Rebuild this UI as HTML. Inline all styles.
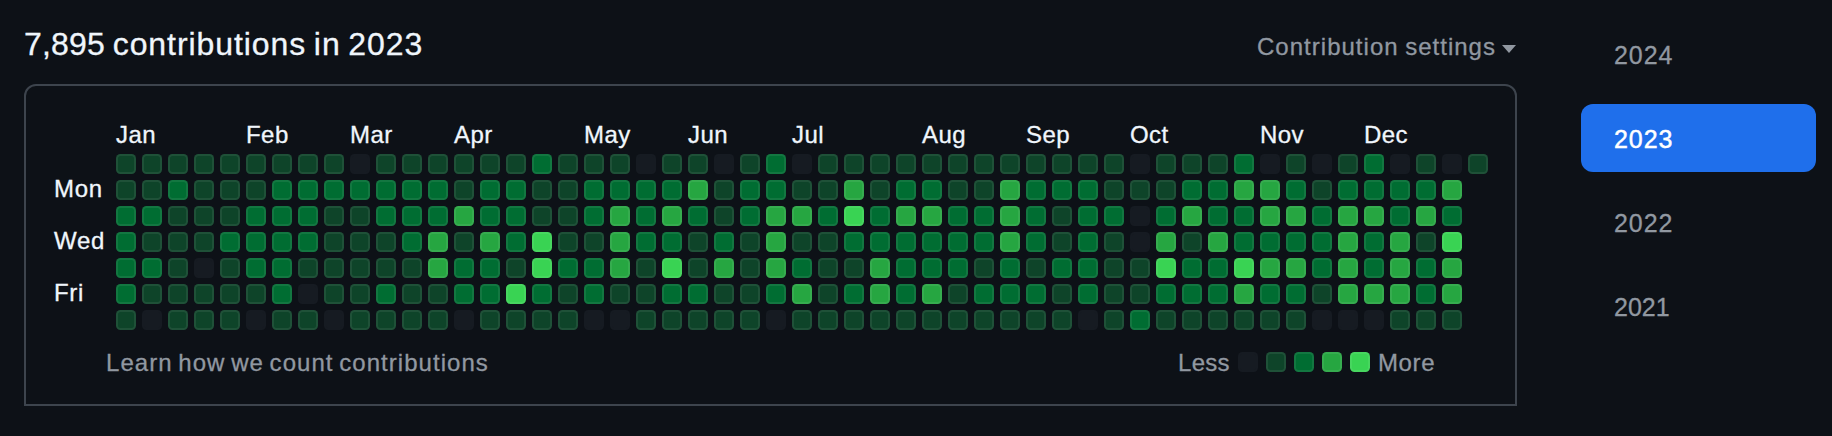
<!DOCTYPE html>
<html><head><meta charset="utf-8"><title>Contributions</title>
<style>
html,body{margin:0;padding:0;background:#0d1117;}
body{width:1832px;height:436px;position:relative;overflow:hidden;font-family:"Liberation Sans",Arial,sans-serif;color:#f0f6fc;}
.abs,.c,.m,.d{position:absolute;}
h2{position:absolute;left:24px;top:24px;margin:0;font-size:32px;font-weight:400;line-height:40px;white-space:nowrap;color:#f0f6fc;letter-spacing:0.93px;word-spacing:-2.2px;-webkit-text-stroke:0.3px #f0f6fc;}
.box{position:absolute;left:24px;top:84px;width:1489px;height:318px;border:2px solid #3d444d;border-radius:12px 12px 0 0;}
.c{width:20px;height:20px;border-radius:4.5px;box-sizing:border-box;border:2px solid rgba(255,255,255,0.075);background-clip:border-box;}
.l0{background:#161b22;border-color:rgba(27,31,35,0.06);}.l1{background:#0e4429;}.l2{background:#006d32;}.l3{background:#26a641;}.l4{background:#39d353;}
.m{top:121px;font-size:24px;line-height:28px;white-space:nowrap;letter-spacing:0.45px;-webkit-text-stroke:0.3px #f0f6fc;}
.d{left:54px;font-size:24px;line-height:28px;white-space:nowrap;letter-spacing:0.7px;-webkit-text-stroke:0.3px #f0f6fc;}
.mut{-webkit-text-stroke:0.3px #9198a1;color:#9198a1;font-size:24px;line-height:28px;white-space:nowrap;position:absolute;}
.yr{position:absolute;left:1581px;width:235px;height:68px;border-radius:12px;font-size:25px;line-height:70.5px;color:#9198a1;text-indent:33px;letter-spacing:0.95px;-webkit-text-stroke:0.3px #9198a1;}
.yr.sel{background:#1f6feb;color:#fff;-webkit-text-stroke:0.45px #fff;}
.caret{position:absolute;left:1501.5px;top:45px;width:0;height:0;border-left:7.5px solid transparent;border-right:7.5px solid transparent;border-top:8.5px solid #9198a1;}
</style></head><body>
<h2><span style="letter-spacing:0.2px">7,895</span> contributions in 2023</h2>
<span class="mut" style="left:1257px;top:33px;letter-spacing:1.02px;word-spacing:-1.2px">Contribution settings</span><span class="caret"></span>
<div class="box"></div>
<span class="m" style="left:116px">Jan</span><span class="m" style="left:246px">Feb</span><span class="m" style="left:350px">Mar</span><span class="m" style="left:454px">Apr</span><span class="m" style="left:584px">May</span><span class="m" style="left:688px">Jun</span><span class="m" style="left:792px">Jul</span><span class="m" style="left:922px">Aug</span><span class="m" style="left:1026px">Sep</span><span class="m" style="left:1130px">Oct</span><span class="m" style="left:1260px">Nov</span><span class="m" style="left:1364px">Dec</span>
<span class="d" style="top:175px">Mon</span><span class="d" style="top:227px">Wed</span><span class="d" style="top:279px">Fri</span>
<i class="c l1" style="left:116px;top:154px"></i><i class="c l1" style="left:142px;top:154px"></i><i class="c l1" style="left:168px;top:154px"></i><i class="c l1" style="left:194px;top:154px"></i><i class="c l1" style="left:220px;top:154px"></i><i class="c l1" style="left:246px;top:154px"></i><i class="c l1" style="left:272px;top:154px"></i><i class="c l1" style="left:298px;top:154px"></i><i class="c l1" style="left:324px;top:154px"></i><i class="c l0" style="left:350px;top:154px"></i><i class="c l1" style="left:376px;top:154px"></i><i class="c l1" style="left:402px;top:154px"></i><i class="c l1" style="left:428px;top:154px"></i><i class="c l1" style="left:454px;top:154px"></i><i class="c l1" style="left:480px;top:154px"></i><i class="c l1" style="left:506px;top:154px"></i><i class="c l2" style="left:532px;top:154px"></i><i class="c l1" style="left:558px;top:154px"></i><i class="c l1" style="left:584px;top:154px"></i><i class="c l1" style="left:610px;top:154px"></i><i class="c l0" style="left:636px;top:154px"></i><i class="c l1" style="left:662px;top:154px"></i><i class="c l1" style="left:688px;top:154px"></i><i class="c l0" style="left:714px;top:154px"></i><i class="c l1" style="left:740px;top:154px"></i><i class="c l2" style="left:766px;top:154px"></i><i class="c l0" style="left:792px;top:154px"></i><i class="c l1" style="left:818px;top:154px"></i><i class="c l1" style="left:844px;top:154px"></i><i class="c l1" style="left:870px;top:154px"></i><i class="c l1" style="left:896px;top:154px"></i><i class="c l1" style="left:922px;top:154px"></i><i class="c l1" style="left:948px;top:154px"></i><i class="c l1" style="left:974px;top:154px"></i><i class="c l1" style="left:1000px;top:154px"></i><i class="c l1" style="left:1026px;top:154px"></i><i class="c l1" style="left:1052px;top:154px"></i><i class="c l1" style="left:1078px;top:154px"></i><i class="c l1" style="left:1104px;top:154px"></i><i class="c l0" style="left:1130px;top:154px"></i><i class="c l1" style="left:1156px;top:154px"></i><i class="c l1" style="left:1182px;top:154px"></i><i class="c l1" style="left:1208px;top:154px"></i><i class="c l2" style="left:1234px;top:154px"></i><i class="c l0" style="left:1260px;top:154px"></i><i class="c l1" style="left:1286px;top:154px"></i><i class="c l0" style="left:1312px;top:154px"></i><i class="c l1" style="left:1338px;top:154px"></i><i class="c l2" style="left:1364px;top:154px"></i><i class="c l0" style="left:1390px;top:154px"></i><i class="c l1" style="left:1416px;top:154px"></i><i class="c l0" style="left:1442px;top:154px"></i><i class="c l1" style="left:1468px;top:154px"></i><i class="c l1" style="left:116px;top:180px"></i><i class="c l1" style="left:142px;top:180px"></i><i class="c l2" style="left:168px;top:180px"></i><i class="c l1" style="left:194px;top:180px"></i><i class="c l1" style="left:220px;top:180px"></i><i class="c l1" style="left:246px;top:180px"></i><i class="c l2" style="left:272px;top:180px"></i><i class="c l2" style="left:298px;top:180px"></i><i class="c l2" style="left:324px;top:180px"></i><i class="c l2" style="left:350px;top:180px"></i><i class="c l2" style="left:376px;top:180px"></i><i class="c l2" style="left:402px;top:180px"></i><i class="c l2" style="left:428px;top:180px"></i><i class="c l1" style="left:454px;top:180px"></i><i class="c l2" style="left:480px;top:180px"></i><i class="c l2" style="left:506px;top:180px"></i><i class="c l1" style="left:532px;top:180px"></i><i class="c l1" style="left:558px;top:180px"></i><i class="c l2" style="left:584px;top:180px"></i><i class="c l2" style="left:610px;top:180px"></i><i class="c l2" style="left:636px;top:180px"></i><i class="c l2" style="left:662px;top:180px"></i><i class="c l3" style="left:688px;top:180px"></i><i class="c l1" style="left:714px;top:180px"></i><i class="c l2" style="left:740px;top:180px"></i><i class="c l2" style="left:766px;top:180px"></i><i class="c l1" style="left:792px;top:180px"></i><i class="c l1" style="left:818px;top:180px"></i><i class="c l3" style="left:844px;top:180px"></i><i class="c l1" style="left:870px;top:180px"></i><i class="c l2" style="left:896px;top:180px"></i><i class="c l2" style="left:922px;top:180px"></i><i class="c l1" style="left:948px;top:180px"></i><i class="c l1" style="left:974px;top:180px"></i><i class="c l3" style="left:1000px;top:180px"></i><i class="c l2" style="left:1026px;top:180px"></i><i class="c l2" style="left:1052px;top:180px"></i><i class="c l2" style="left:1078px;top:180px"></i><i class="c l1" style="left:1104px;top:180px"></i><i class="c l1" style="left:1130px;top:180px"></i><i class="c l1" style="left:1156px;top:180px"></i><i class="c l2" style="left:1182px;top:180px"></i><i class="c l2" style="left:1208px;top:180px"></i><i class="c l3" style="left:1234px;top:180px"></i><i class="c l3" style="left:1260px;top:180px"></i><i class="c l2" style="left:1286px;top:180px"></i><i class="c l1" style="left:1312px;top:180px"></i><i class="c l2" style="left:1338px;top:180px"></i><i class="c l2" style="left:1364px;top:180px"></i><i class="c l2" style="left:1390px;top:180px"></i><i class="c l2" style="left:1416px;top:180px"></i><i class="c l3" style="left:1442px;top:180px"></i><i class="c l2" style="left:116px;top:206px"></i><i class="c l2" style="left:142px;top:206px"></i><i class="c l1" style="left:168px;top:206px"></i><i class="c l1" style="left:194px;top:206px"></i><i class="c l1" style="left:220px;top:206px"></i><i class="c l2" style="left:246px;top:206px"></i><i class="c l2" style="left:272px;top:206px"></i><i class="c l2" style="left:298px;top:206px"></i><i class="c l1" style="left:324px;top:206px"></i><i class="c l1" style="left:350px;top:206px"></i><i class="c l2" style="left:376px;top:206px"></i><i class="c l2" style="left:402px;top:206px"></i><i class="c l2" style="left:428px;top:206px"></i><i class="c l3" style="left:454px;top:206px"></i><i class="c l2" style="left:480px;top:206px"></i><i class="c l2" style="left:506px;top:206px"></i><i class="c l1" style="left:532px;top:206px"></i><i class="c l1" style="left:558px;top:206px"></i><i class="c l2" style="left:584px;top:206px"></i><i class="c l3" style="left:610px;top:206px"></i><i class="c l2" style="left:636px;top:206px"></i><i class="c l3" style="left:662px;top:206px"></i><i class="c l2" style="left:688px;top:206px"></i><i class="c l1" style="left:714px;top:206px"></i><i class="c l2" style="left:740px;top:206px"></i><i class="c l3" style="left:766px;top:206px"></i><i class="c l3" style="left:792px;top:206px"></i><i class="c l2" style="left:818px;top:206px"></i><i class="c l4" style="left:844px;top:206px"></i><i class="c l2" style="left:870px;top:206px"></i><i class="c l3" style="left:896px;top:206px"></i><i class="c l3" style="left:922px;top:206px"></i><i class="c l2" style="left:948px;top:206px"></i><i class="c l2" style="left:974px;top:206px"></i><i class="c l3" style="left:1000px;top:206px"></i><i class="c l2" style="left:1026px;top:206px"></i><i class="c l1" style="left:1052px;top:206px"></i><i class="c l2" style="left:1078px;top:206px"></i><i class="c l2" style="left:1104px;top:206px"></i><i class="c l0" style="left:1130px;top:206px"></i><i class="c l2" style="left:1156px;top:206px"></i><i class="c l3" style="left:1182px;top:206px"></i><i class="c l2" style="left:1208px;top:206px"></i><i class="c l2" style="left:1234px;top:206px"></i><i class="c l3" style="left:1260px;top:206px"></i><i class="c l3" style="left:1286px;top:206px"></i><i class="c l2" style="left:1312px;top:206px"></i><i class="c l3" style="left:1338px;top:206px"></i><i class="c l3" style="left:1364px;top:206px"></i><i class="c l2" style="left:1390px;top:206px"></i><i class="c l3" style="left:1416px;top:206px"></i><i class="c l2" style="left:1442px;top:206px"></i><i class="c l2" style="left:116px;top:232px"></i><i class="c l1" style="left:142px;top:232px"></i><i class="c l1" style="left:168px;top:232px"></i><i class="c l1" style="left:194px;top:232px"></i><i class="c l2" style="left:220px;top:232px"></i><i class="c l2" style="left:246px;top:232px"></i><i class="c l2" style="left:272px;top:232px"></i><i class="c l2" style="left:298px;top:232px"></i><i class="c l1" style="left:324px;top:232px"></i><i class="c l1" style="left:350px;top:232px"></i><i class="c l1" style="left:376px;top:232px"></i><i class="c l2" style="left:402px;top:232px"></i><i class="c l3" style="left:428px;top:232px"></i><i class="c l1" style="left:454px;top:232px"></i><i class="c l3" style="left:480px;top:232px"></i><i class="c l2" style="left:506px;top:232px"></i><i class="c l4" style="left:532px;top:232px"></i><i class="c l1" style="left:558px;top:232px"></i><i class="c l1" style="left:584px;top:232px"></i><i class="c l3" style="left:610px;top:232px"></i><i class="c l2" style="left:636px;top:232px"></i><i class="c l2" style="left:662px;top:232px"></i><i class="c l1" style="left:688px;top:232px"></i><i class="c l2" style="left:714px;top:232px"></i><i class="c l1" style="left:740px;top:232px"></i><i class="c l3" style="left:766px;top:232px"></i><i class="c l1" style="left:792px;top:232px"></i><i class="c l1" style="left:818px;top:232px"></i><i class="c l2" style="left:844px;top:232px"></i><i class="c l2" style="left:870px;top:232px"></i><i class="c l2" style="left:896px;top:232px"></i><i class="c l2" style="left:922px;top:232px"></i><i class="c l2" style="left:948px;top:232px"></i><i class="c l2" style="left:974px;top:232px"></i><i class="c l3" style="left:1000px;top:232px"></i><i class="c l2" style="left:1026px;top:232px"></i><i class="c l1" style="left:1052px;top:232px"></i><i class="c l2" style="left:1078px;top:232px"></i><i class="c l1" style="left:1104px;top:232px"></i><i class="c l0" style="left:1130px;top:232px"></i><i class="c l3" style="left:1156px;top:232px"></i><i class="c l1" style="left:1182px;top:232px"></i><i class="c l3" style="left:1208px;top:232px"></i><i class="c l2" style="left:1234px;top:232px"></i><i class="c l2" style="left:1260px;top:232px"></i><i class="c l2" style="left:1286px;top:232px"></i><i class="c l2" style="left:1312px;top:232px"></i><i class="c l3" style="left:1338px;top:232px"></i><i class="c l2" style="left:1364px;top:232px"></i><i class="c l3" style="left:1390px;top:232px"></i><i class="c l1" style="left:1416px;top:232px"></i><i class="c l4" style="left:1442px;top:232px"></i><i class="c l2" style="left:116px;top:258px"></i><i class="c l2" style="left:142px;top:258px"></i><i class="c l1" style="left:168px;top:258px"></i><i class="c l0" style="left:194px;top:258px"></i><i class="c l1" style="left:220px;top:258px"></i><i class="c l2" style="left:246px;top:258px"></i><i class="c l2" style="left:272px;top:258px"></i><i class="c l1" style="left:298px;top:258px"></i><i class="c l1" style="left:324px;top:258px"></i><i class="c l1" style="left:350px;top:258px"></i><i class="c l1" style="left:376px;top:258px"></i><i class="c l1" style="left:402px;top:258px"></i><i class="c l3" style="left:428px;top:258px"></i><i class="c l2" style="left:454px;top:258px"></i><i class="c l2" style="left:480px;top:258px"></i><i class="c l1" style="left:506px;top:258px"></i><i class="c l4" style="left:532px;top:258px"></i><i class="c l2" style="left:558px;top:258px"></i><i class="c l2" style="left:584px;top:258px"></i><i class="c l3" style="left:610px;top:258px"></i><i class="c l1" style="left:636px;top:258px"></i><i class="c l4" style="left:662px;top:258px"></i><i class="c l1" style="left:688px;top:258px"></i><i class="c l3" style="left:714px;top:258px"></i><i class="c l1" style="left:740px;top:258px"></i><i class="c l3" style="left:766px;top:258px"></i><i class="c l2" style="left:792px;top:258px"></i><i class="c l1" style="left:818px;top:258px"></i><i class="c l1" style="left:844px;top:258px"></i><i class="c l3" style="left:870px;top:258px"></i><i class="c l2" style="left:896px;top:258px"></i><i class="c l2" style="left:922px;top:258px"></i><i class="c l2" style="left:948px;top:258px"></i><i class="c l1" style="left:974px;top:258px"></i><i class="c l2" style="left:1000px;top:258px"></i><i class="c l1" style="left:1026px;top:258px"></i><i class="c l2" style="left:1052px;top:258px"></i><i class="c l2" style="left:1078px;top:258px"></i><i class="c l1" style="left:1104px;top:258px"></i><i class="c l1" style="left:1130px;top:258px"></i><i class="c l4" style="left:1156px;top:258px"></i><i class="c l2" style="left:1182px;top:258px"></i><i class="c l2" style="left:1208px;top:258px"></i><i class="c l4" style="left:1234px;top:258px"></i><i class="c l3" style="left:1260px;top:258px"></i><i class="c l3" style="left:1286px;top:258px"></i><i class="c l2" style="left:1312px;top:258px"></i><i class="c l3" style="left:1338px;top:258px"></i><i class="c l2" style="left:1364px;top:258px"></i><i class="c l3" style="left:1390px;top:258px"></i><i class="c l2" style="left:1416px;top:258px"></i><i class="c l3" style="left:1442px;top:258px"></i><i class="c l2" style="left:116px;top:284px"></i><i class="c l1" style="left:142px;top:284px"></i><i class="c l1" style="left:168px;top:284px"></i><i class="c l1" style="left:194px;top:284px"></i><i class="c l1" style="left:220px;top:284px"></i><i class="c l1" style="left:246px;top:284px"></i><i class="c l2" style="left:272px;top:284px"></i><i class="c l0" style="left:298px;top:284px"></i><i class="c l1" style="left:324px;top:284px"></i><i class="c l1" style="left:350px;top:284px"></i><i class="c l2" style="left:376px;top:284px"></i><i class="c l1" style="left:402px;top:284px"></i><i class="c l1" style="left:428px;top:284px"></i><i class="c l2" style="left:454px;top:284px"></i><i class="c l2" style="left:480px;top:284px"></i><i class="c l4" style="left:506px;top:284px"></i><i class="c l2" style="left:532px;top:284px"></i><i class="c l1" style="left:558px;top:284px"></i><i class="c l2" style="left:584px;top:284px"></i><i class="c l1" style="left:610px;top:284px"></i><i class="c l1" style="left:636px;top:284px"></i><i class="c l2" style="left:662px;top:284px"></i><i class="c l2" style="left:688px;top:284px"></i><i class="c l1" style="left:714px;top:284px"></i><i class="c l1" style="left:740px;top:284px"></i><i class="c l2" style="left:766px;top:284px"></i><i class="c l3" style="left:792px;top:284px"></i><i class="c l1" style="left:818px;top:284px"></i><i class="c l2" style="left:844px;top:284px"></i><i class="c l3" style="left:870px;top:284px"></i><i class="c l2" style="left:896px;top:284px"></i><i class="c l3" style="left:922px;top:284px"></i><i class="c l1" style="left:948px;top:284px"></i><i class="c l2" style="left:974px;top:284px"></i><i class="c l2" style="left:1000px;top:284px"></i><i class="c l2" style="left:1026px;top:284px"></i><i class="c l1" style="left:1052px;top:284px"></i><i class="c l2" style="left:1078px;top:284px"></i><i class="c l1" style="left:1104px;top:284px"></i><i class="c l1" style="left:1130px;top:284px"></i><i class="c l2" style="left:1156px;top:284px"></i><i class="c l2" style="left:1182px;top:284px"></i><i class="c l2" style="left:1208px;top:284px"></i><i class="c l3" style="left:1234px;top:284px"></i><i class="c l2" style="left:1260px;top:284px"></i><i class="c l2" style="left:1286px;top:284px"></i><i class="c l1" style="left:1312px;top:284px"></i><i class="c l3" style="left:1338px;top:284px"></i><i class="c l3" style="left:1364px;top:284px"></i><i class="c l3" style="left:1390px;top:284px"></i><i class="c l2" style="left:1416px;top:284px"></i><i class="c l3" style="left:1442px;top:284px"></i><i class="c l1" style="left:116px;top:310px"></i><i class="c l0" style="left:142px;top:310px"></i><i class="c l1" style="left:168px;top:310px"></i><i class="c l1" style="left:194px;top:310px"></i><i class="c l1" style="left:220px;top:310px"></i><i class="c l0" style="left:246px;top:310px"></i><i class="c l1" style="left:272px;top:310px"></i><i class="c l1" style="left:298px;top:310px"></i><i class="c l0" style="left:324px;top:310px"></i><i class="c l1" style="left:350px;top:310px"></i><i class="c l1" style="left:376px;top:310px"></i><i class="c l1" style="left:402px;top:310px"></i><i class="c l1" style="left:428px;top:310px"></i><i class="c l0" style="left:454px;top:310px"></i><i class="c l1" style="left:480px;top:310px"></i><i class="c l1" style="left:506px;top:310px"></i><i class="c l1" style="left:532px;top:310px"></i><i class="c l1" style="left:558px;top:310px"></i><i class="c l0" style="left:584px;top:310px"></i><i class="c l0" style="left:610px;top:310px"></i><i class="c l1" style="left:636px;top:310px"></i><i class="c l1" style="left:662px;top:310px"></i><i class="c l1" style="left:688px;top:310px"></i><i class="c l1" style="left:714px;top:310px"></i><i class="c l1" style="left:740px;top:310px"></i><i class="c l0" style="left:766px;top:310px"></i><i class="c l1" style="left:792px;top:310px"></i><i class="c l1" style="left:818px;top:310px"></i><i class="c l1" style="left:844px;top:310px"></i><i class="c l1" style="left:870px;top:310px"></i><i class="c l1" style="left:896px;top:310px"></i><i class="c l1" style="left:922px;top:310px"></i><i class="c l1" style="left:948px;top:310px"></i><i class="c l1" style="left:974px;top:310px"></i><i class="c l1" style="left:1000px;top:310px"></i><i class="c l1" style="left:1026px;top:310px"></i><i class="c l1" style="left:1052px;top:310px"></i><i class="c l0" style="left:1078px;top:310px"></i><i class="c l1" style="left:1104px;top:310px"></i><i class="c l2" style="left:1130px;top:310px"></i><i class="c l1" style="left:1156px;top:310px"></i><i class="c l1" style="left:1182px;top:310px"></i><i class="c l1" style="left:1208px;top:310px"></i><i class="c l1" style="left:1234px;top:310px"></i><i class="c l1" style="left:1260px;top:310px"></i><i class="c l1" style="left:1286px;top:310px"></i><i class="c l0" style="left:1312px;top:310px"></i><i class="c l0" style="left:1338px;top:310px"></i><i class="c l0" style="left:1364px;top:310px"></i><i class="c l1" style="left:1390px;top:310px"></i><i class="c l1" style="left:1416px;top:310px"></i><i class="c l1" style="left:1442px;top:310px"></i>
<a class="mut" style="left:106px;top:349px;letter-spacing:1.04px;word-spacing:-2px">Learn how we count contributions</a>
<span class="mut" style="left:1178px;top:349px;letter-spacing:0.3px">Less</span>
<i class="c l0" style="left:1238px;top:352px"></i><i class="c l1" style="left:1266px;top:352px"></i><i class="c l2" style="left:1294px;top:352px"></i><i class="c l3" style="left:1322px;top:352px"></i><i class="c l4" style="left:1350px;top:352px"></i>
<span class="mut" style="left:1378px;top:349px;letter-spacing:0.6px">More</span>
<div class="yr" style="top:20px">2024</div>
<div class="yr sel" style="top:104px">2023</div>
<div class="yr" style="top:188px">2022</div>
<div class="yr" style="top:272px;letter-spacing:0px">2021</div>
</body></html>
